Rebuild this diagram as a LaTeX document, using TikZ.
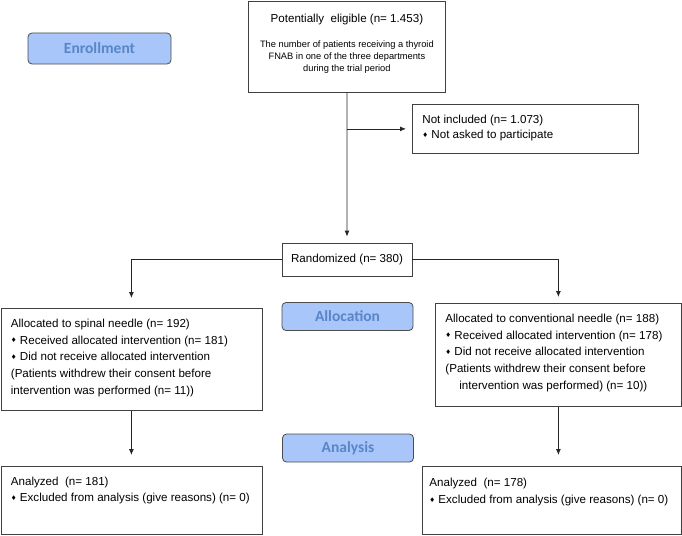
\documentclass[tikz,border=0pt]{standalone}
\usepackage{fontspec}
\setmainfont{Liberation Sans}
\newfontfamily\stagefont{Carlito}
\newfontfamily\symfont{DejaVu Sans}
\usepackage{xcolor}
\usepackage{tikz}
\usetikzlibrary{arrows.meta}

\definecolor{stagefill}{RGB}{168,198,250}
\definecolor{stagetext}{RGB}{88,134,200}
\newcommand{\dmd}{{\symfont\fontsize{6.5}{7}\selectfont\raisebox{1.2pt}{♦}}\ }
\newcommand{\cellbox}[3]{\parbox[t][#2][t]{#1}{\raggedright #3}}

\begin{document}
\begin{tikzpicture}[x=1pt, y=-1pt,
  frame/.style={draw=black!75, line width=0.8pt, anchor=north west,
    inner xsep=10pt, inner ysep=10.5pt, font=\fontsize{11.6}{16.8}\selectfont},
  stage/.style={draw=black!70, line width=0.8pt, rounded corners=4pt,
    fill=stagefill, text=stagetext, font=\stagefont\bfseries\fontsize{15.5}{18}\selectfont,
    inner sep=0pt, minimum width=131pt, minimum height=28pt},
  arr/.style={-{Latex[length=6pt,width=5pt]}, line width=0.8pt, black!85}]
  \useasboundingbox (0,0) rectangle (682,535);

  % stage labels
  \node[stage, minimum width=143pt, minimum height=31pt] (enrol) at (99.5,48.5) {Enrollment};
  \node[stage] (alloc) at (347.5,316.5) {Allocation};
  \node[stage] (analys) at (348,448) {Analysis};

  % enrollment
  \node[frame, inner ysep=12.5pt] (elig) at (248,1) {\cellbox{177pt}{66pt}{\centering
      Potentially\ \ eligible (n= 1.453)\par\vspace{12.7pt}
      {\fontsize{9.3}{12.3}\selectfont The number of patients receiving a thyroid\\
       FNAB in one of the three departments\\ during the trial period\par}}};
  \node[frame, font=\fontsize{11.6}{15}\selectfont] (excl) at (412,104)
    {\cellbox{206pt}{28pt}{Not included (n= 1.073)\\ \dmd Not asked to participate}};
  \node[frame, inner sep=0pt, minimum width=130pt, minimum height=33pt, anchor=center]
    (rand) at (347,259.5) {Randomized (n= 380)};

  % allocation
  \node[frame] (armA) at (0.5,308) {\cellbox{241pt}{81pt}{Allocated to spinal needle (n= 192)\\
      \dmd Received allocated intervention (n= 181)\\
      \dmd Did not receive allocated intervention\\
      (Patients withdrew their consent before\\
      intervention was performed (n= 11))}};
  \node[frame] (armB) at (435,303) {\cellbox{226pt}{82pt}{Allocated to conventional needle (n= 188)\\
      \dmd Received allocated intervention (n= 178)\\
      \dmd Did not receive allocated intervention\\
      (Patients withdrew their consent before\\
      \hspace*{14pt}intervention was performed) (n= 10))}};

  % analysis
  \node[frame, font=\fontsize{11.6}{16}\selectfont] (doneA) at (0.5,466)
    {\cellbox{241pt}{47pt}{Analyzed\ \ (n= 181)\\ \dmd Excluded from analysis (give reasons) (n= 0)}};
  \node[frame, inner xsep=7pt, inner ysep=12pt, font=\fontsize{11.6}{16.5}\selectfont] (doneB) at (422,466)
    {\cellbox{245pt}{44pt}{Analyzed\ \ (n= 178)\\ \dmd Excluded from analysis (give reasons) (n= 0)}};

  \draw[arr, shorten >=6pt] (elig.south) -- (rand.north);
  \draw[arr, shorten >=6pt] (elig.south |- excl.west) -- (excl.west);
  \draw[arr, shorten >=10pt] (rand.west) -| (armA.north);
  \draw[arr, shorten >=6pt] (rand.east) -| (armB.north);
  \draw[arr, shorten >=11pt] (armA.south) -- (doneA.north);
  \draw[arr, shorten >=11pt] (armB.south) -- (armB.south |- doneB.north);
\end{tikzpicture}
\end{document}
